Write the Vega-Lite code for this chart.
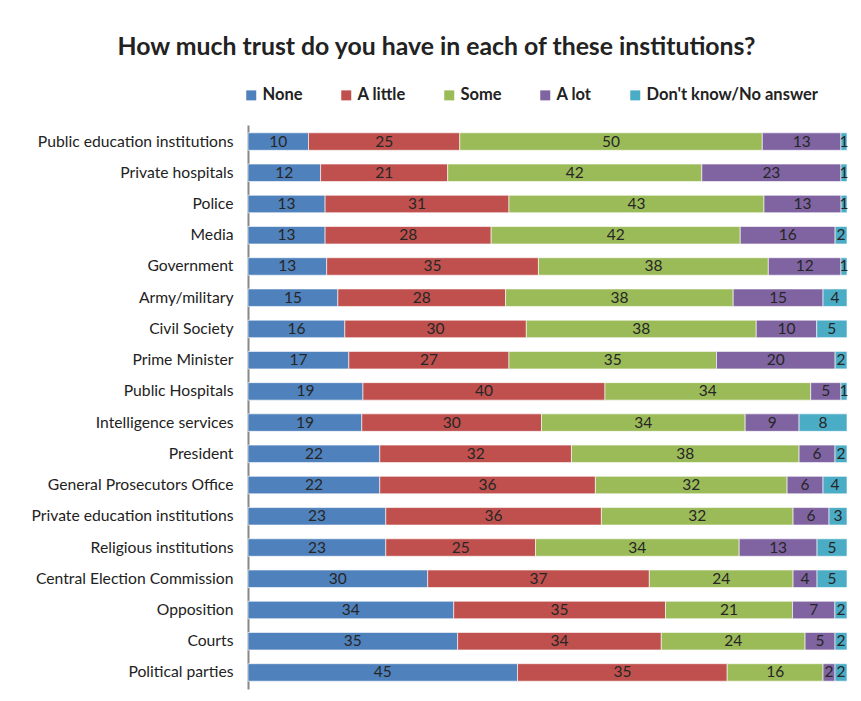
{
  "$schema": "https://vega.github.io/schema/vega-lite/v6.json",
  "autosize": {"type": "none"},
  "padding": {"left": 248, "top": 125, "right": 14, "bottom": 12},
  "width": 599,
  "height": 564,
  "background": "white",
  "title": {
    "text": "How much trust do you have in each of these institutions?",
    "font": "Lato",
    "fontSize": 24.8,
    "fontWeight": "bold",
    "color": "#222222",
    "anchor": "middle",
    "dx": -111,
    "offset": 27
  },
  "data": {
    "values": [
      {"inst": "Public education institutions", "cat": "None", "o": 1, "v": 10},
      {"inst": "Public education institutions", "cat": "A little", "o": 2, "v": 25},
      {"inst": "Public education institutions", "cat": "Some", "o": 3, "v": 50},
      {"inst": "Public education institutions", "cat": "A lot", "o": 4, "v": 13},
      {"inst": "Public education institutions", "cat": "Don't know/No answer", "o": 5, "v": 1},
      {"inst": "Private hospitals", "cat": "None", "o": 1, "v": 12},
      {"inst": "Private hospitals", "cat": "A little", "o": 2, "v": 21},
      {"inst": "Private hospitals", "cat": "Some", "o": 3, "v": 42},
      {"inst": "Private hospitals", "cat": "A lot", "o": 4, "v": 23},
      {"inst": "Private hospitals", "cat": "Don't know/No answer", "o": 5, "v": 1},
      {"inst": "Police", "cat": "None", "o": 1, "v": 13},
      {"inst": "Police", "cat": "A little", "o": 2, "v": 31},
      {"inst": "Police", "cat": "Some", "o": 3, "v": 43},
      {"inst": "Police", "cat": "A lot", "o": 4, "v": 13},
      {"inst": "Police", "cat": "Don't know/No answer", "o": 5, "v": 1},
      {"inst": "Media", "cat": "None", "o": 1, "v": 13},
      {"inst": "Media", "cat": "A little", "o": 2, "v": 28},
      {"inst": "Media", "cat": "Some", "o": 3, "v": 42},
      {"inst": "Media", "cat": "A lot", "o": 4, "v": 16},
      {"inst": "Media", "cat": "Don't know/No answer", "o": 5, "v": 2},
      {"inst": "Government ", "cat": "None", "o": 1, "v": 13},
      {"inst": "Government ", "cat": "A little", "o": 2, "v": 35},
      {"inst": "Government ", "cat": "Some", "o": 3, "v": 38},
      {"inst": "Government ", "cat": "A lot", "o": 4, "v": 12},
      {"inst": "Government ", "cat": "Don't know/No answer", "o": 5, "v": 1},
      {"inst": "Army/military", "cat": "None", "o": 1, "v": 15},
      {"inst": "Army/military", "cat": "A little", "o": 2, "v": 28},
      {"inst": "Army/military", "cat": "Some", "o": 3, "v": 38},
      {"inst": "Army/military", "cat": "A lot", "o": 4, "v": 15},
      {"inst": "Army/military", "cat": "Don't know/No answer", "o": 5, "v": 4},
      {"inst": "Civil Society ", "cat": "None", "o": 1, "v": 16},
      {"inst": "Civil Society ", "cat": "A little", "o": 2, "v": 30},
      {"inst": "Civil Society ", "cat": "Some", "o": 3, "v": 38},
      {"inst": "Civil Society ", "cat": "A lot", "o": 4, "v": 10},
      {"inst": "Civil Society ", "cat": "Don't know/No answer", "o": 5, "v": 5},
      {"inst": "Prime Minister", "cat": "None", "o": 1, "v": 17},
      {"inst": "Prime Minister", "cat": "A little", "o": 2, "v": 27},
      {"inst": "Prime Minister", "cat": "Some", "o": 3, "v": 35},
      {"inst": "Prime Minister", "cat": "A lot", "o": 4, "v": 20},
      {"inst": "Prime Minister", "cat": "Don't know/No answer", "o": 5, "v": 2},
      {"inst": "Public Hospitals", "cat": "None", "o": 1, "v": 19},
      {"inst": "Public Hospitals", "cat": "A little", "o": 2, "v": 40},
      {"inst": "Public Hospitals", "cat": "Some", "o": 3, "v": 34},
      {"inst": "Public Hospitals", "cat": "A lot", "o": 4, "v": 5},
      {"inst": "Public Hospitals", "cat": "Don't know/No answer", "o": 5, "v": 1},
      {"inst": "Intelligence services", "cat": "None", "o": 1, "v": 19},
      {"inst": "Intelligence services", "cat": "A little", "o": 2, "v": 30},
      {"inst": "Intelligence services", "cat": "Some", "o": 3, "v": 34},
      {"inst": "Intelligence services", "cat": "A lot", "o": 4, "v": 9},
      {"inst": "Intelligence services", "cat": "Don't know/No answer", "o": 5, "v": 8},
      {"inst": "President", "cat": "None", "o": 1, "v": 22},
      {"inst": "President", "cat": "A little", "o": 2, "v": 32},
      {"inst": "President", "cat": "Some", "o": 3, "v": 38},
      {"inst": "President", "cat": "A lot", "o": 4, "v": 6},
      {"inst": "President", "cat": "Don't know/No answer", "o": 5, "v": 2},
      {"inst": "General Prosecutors Office", "cat": "None", "o": 1, "v": 22},
      {"inst": "General Prosecutors Office", "cat": "A little", "o": 2, "v": 36},
      {"inst": "General Prosecutors Office", "cat": "Some", "o": 3, "v": 32},
      {"inst": "General Prosecutors Office", "cat": "A lot", "o": 4, "v": 6},
      {"inst": "General Prosecutors Office", "cat": "Don't know/No answer", "o": 5, "v": 4},
      {"inst": "Private education institutions", "cat": "None", "o": 1, "v": 23},
      {"inst": "Private education institutions", "cat": "A little", "o": 2, "v": 36},
      {"inst": "Private education institutions", "cat": "Some", "o": 3, "v": 32},
      {"inst": "Private education institutions", "cat": "A lot", "o": 4, "v": 6},
      {"inst": "Private education institutions", "cat": "Don't know/No answer", "o": 5, "v": 3},
      {"inst": "Religious institutions", "cat": "None", "o": 1, "v": 23},
      {"inst": "Religious institutions", "cat": "A little", "o": 2, "v": 25},
      {"inst": "Religious institutions", "cat": "Some", "o": 3, "v": 34},
      {"inst": "Religious institutions", "cat": "A lot", "o": 4, "v": 13},
      {"inst": "Religious institutions", "cat": "Don't know/No answer", "o": 5, "v": 5},
      {"inst": "Central Election Commission ", "cat": "None", "o": 1, "v": 30},
      {"inst": "Central Election Commission ", "cat": "A little", "o": 2, "v": 37},
      {"inst": "Central Election Commission ", "cat": "Some", "o": 3, "v": 24},
      {"inst": "Central Election Commission ", "cat": "A lot", "o": 4, "v": 4},
      {"inst": "Central Election Commission ", "cat": "Don't know/No answer", "o": 5, "v": 5},
      {"inst": "Opposition", "cat": "None", "o": 1, "v": 34},
      {"inst": "Opposition", "cat": "A little", "o": 2, "v": 35},
      {"inst": "Opposition", "cat": "Some", "o": 3, "v": 21},
      {"inst": "Opposition", "cat": "A lot", "o": 4, "v": 7},
      {"inst": "Opposition", "cat": "Don't know/No answer", "o": 5, "v": 2},
      {"inst": "Courts", "cat": "None", "o": 1, "v": 35},
      {"inst": "Courts", "cat": "A little", "o": 2, "v": 34},
      {"inst": "Courts", "cat": "Some", "o": 3, "v": 24},
      {"inst": "Courts", "cat": "A lot", "o": 4, "v": 5},
      {"inst": "Courts", "cat": "Don't know/No answer", "o": 5, "v": 2},
      {"inst": "Political parties", "cat": "None", "o": 1, "v": 45},
      {"inst": "Political parties", "cat": "A little", "o": 2, "v": 35},
      {"inst": "Political parties", "cat": "Some", "o": 3, "v": 16},
      {"inst": "Political parties", "cat": "A lot", "o": 4, "v": 2},
      {"inst": "Political parties", "cat": "Don't know/No answer", "o": 5, "v": 2}
    ]
  },
  "transform": [
    {"stack": "v", "groupby": ["inst"], "sort": [{"field": "o", "order": "ascending"}], "as": ["x0", "x1"], "offset": "normalize"},
    {"calculate": "(datum.x0 + datum.x1) / 2", "as": "xm"}
  ],
  "encoding": {
    "y": {
      "field": "inst",
      "type": "nominal",
      "sort": null,
      "scale": {"paddingInner": 0.44, "paddingOuter": 0.25},
      "axis": {
        "title": null,
        "ticks": false,
        "domainColor": "#888888",
        "domainWidth": 2,
        "labelFont": "Lato",
        "labelFontSize": 15.7,
        "labelColor": "#222222",
        "labelPadding": 15,
        "labelLimit": 300
      }
    }
  },
  "layer": [
    {
      "mark": {"type": "bar", "stroke": "white", "strokeWidth": 0.6},
      "encoding": {
        "x": {"field": "x0", "type": "quantitative", "scale": {"domain": [0, 1]}, "axis": null},
        "x2": {"field": "x1"},
        "color": {
          "field": "cat",
          "type": "nominal",
          "scale": {
            "domain": ["None", "A little", "Some", "A lot", "Don't know/No answer"],
            "range": ["#4F81BD", "#C0504D", "#9BBB59", "#8064A2", "#4BACC6"]
          },
          "legend": {
            "title": null,
            "orient": "none",
            "direction": "horizontal",
            "legendX": -5,
            "legendY": -38,
            "symbolType": "square",
            "symbolSize": 100,
            "symbolStrokeWidth": 0,
            "labelFont": "Lato",
            "labelFontSize": 16.5,
            "labelFontWeight": "bold",
            "labelColor": "#222222",
            "labelOffset": 3,
            "labelLimit": 400,
            "columnPadding": 35
          }
        }
      }
    },
    {
      "mark": {"type": "text", "font": "Lato", "fontSize": 15.5, "color": "#262626", "baseline": "middle", "align": "center"},
      "encoding": {
        "x": {"field": "xm", "type": "quantitative", "scale": {"domain": [0, 1]}, "axis": null},
        "text": {"field": "v", "type": "quantitative"}
      }
    }
  ],
  "config": {"view": {"stroke": null}}
}
